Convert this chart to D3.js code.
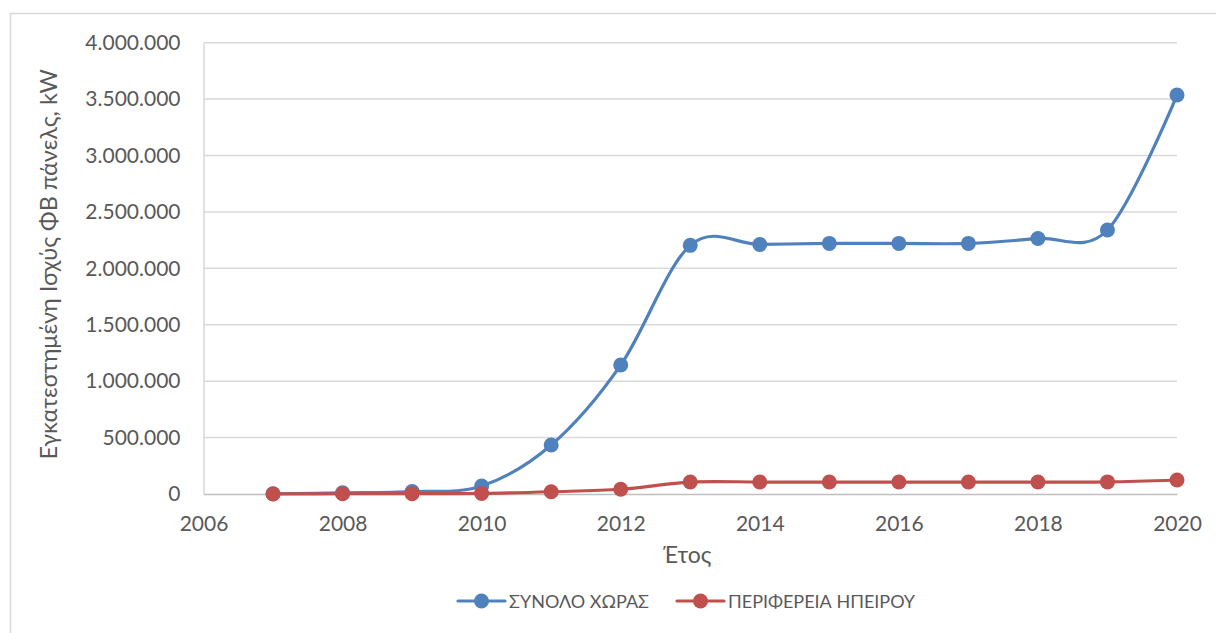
<!DOCTYPE html>
<html>
<head>
<meta charset="utf-8">
<script src="https://cdn.jsdelivr.net/npm/d3@7"></script>
<style>
  html, body { margin: 0; padding: 0; background: #fff; }
  svg text { font-family: Lato, "Open Sans", "Noto Sans", sans-serif; fill: #595959; }
</style>
</head>
<body>
<svg id="chart" width="1216" height="633"></svg>
<script>
// Installed PV capacity (kW) per year
const years = [2007, 2008, 2009, 2010, 2011, 2012, 2013, 2014, 2015, 2016, 2017, 2018, 2019, 2020];
const totalCountry = [2000, 10000, 22000, 71000, 434000, 1143000, 2204000, 2212000, 2221000, 2221000, 2221000, 2265000, 2340000, 3536000];
const epirusRegion = [500, 2000, 3000, 5000, 20000, 42000, 106000, 106000, 106000, 106000, 106000, 106000, 107000, 124000];
const seriesNames = ["ΣΥΝΟΛΟ ΧΩΡΑΣ", "ΠΕΡΙΦΕΡΕΙΑ ΗΠΕΙΡΟΥ"];
const seriesColors = ["#4F81BD", "#C0504D"];
const xTicks = [2006, 2008, 2010, 2012, 2014, 2016, 2018, 2020];
const yTicks = [0, 500000, 1000000, 1500000, 2000000, 2500000, 3000000, 3500000, 4000000];
const yTitle = "Εγκατεστημένη Ισχύς ΦΒ πάνελς, kW";
const xTitle = "Έτος";

const svg = d3.select("#chart");
const plot = { left: 203.5, right: 1177, top: 42.7, bottom: 494 };

// Outer chart frame
svg.append("rect")
  .attr("x", 10.5).attr("y", 13.5)
  .attr("width", 1240).attr("height", 660)
  .attr("fill", "#fff").attr("stroke", "#d9d9d9").attr("stroke-width", 1.5);

const x = d3.scaleLinear().domain([2006, 2020]).range([plot.left, plot.right]);
const y = d3.scaleLinear().domain([0, 4000000]).range([plot.bottom, plot.top]);

const locale = d3.formatLocale({ decimal: ",", thousands: ".", grouping: [3], currency: ["", " €"] });
const fmt = locale.format(",d");

// Horizontal gridlines
svg.append("g")
  .selectAll("line")
  .data(yTicks.slice(1))
  .join("line")
  .attr("x1", plot.left).attr("x2", plot.right)
  .attr("y1", d => y(d)).attr("y2", d => y(d))
  .attr("stroke", "#d9d9d9").attr("stroke-width", 1.5);

// Y axis
const yAxis = svg.append("g")
  .attr("transform", `translate(${plot.left},0)`)
  .call(d3.axisLeft(y).tickValues(yTicks).tickFormat(fmt).tickSize(0).tickPadding(23));
yAxis.select(".domain").attr("stroke", "#d9d9d9").attr("stroke-width", 1.5);
yAxis.selectAll("text").attr("font-size", 21).attr("fill", "#595959");

// X axis
const xAxis = svg.append("g")
  .attr("transform", `translate(0,${plot.bottom})`)
  .call(d3.axisBottom(x).tickValues(xTicks).tickFormat(d3.format("d")).tickSize(0).tickPadding(22));
xAxis.select(".domain").attr("stroke", "#bfbfbf").attr("stroke-width", 1.5);
xAxis.selectAll("text").attr("font-size", 21).attr("fill", "#595959");

// Axis titles
svg.append("text")
  .attr("x", (plot.left + plot.right) / 2 - 3).attr("y", 563)
  .attr("text-anchor", "middle").attr("font-size", 23)
  .text(xTitle);

svg.append("text")
  .attr("transform", `translate(57,${(plot.top + plot.bottom) / 2 - 4}) rotate(-90)`)
  .attr("text-anchor", "middle").attr("font-size", 23.5)
  .text(yTitle);

// Smoothed series lines with markers
const series = [totalCountry, epirusRegion];
const line = d3.line()
  .x((d, i) => x(years[i]))
  .y(d => y(d))
  .curve(d3.curveCardinal.tension(0));

series.forEach((vals, s) => {
  const g = svg.append("g");
  g.append("path")
    .attr("d", line(vals))
    .attr("fill", "none")
    .attr("stroke", seriesColors[s])
    .attr("stroke-width", 3.2)
    .attr("stroke-linecap", "round");
  g.selectAll("circle")
    .data(vals)
    .join("circle")
    .attr("cx", (d, i) => x(years[i]))
    .attr("cy", d => y(d))
    .attr("r", 7.5)
    .attr("fill", seriesColors[s]);
});

// Legend
const legendItems = [
  { x0: 458, name: seriesNames[0], color: seriesColors[0] },
  { x0: 677, name: seriesNames[1], color: seriesColors[1] }
];
const legendY = 601;
legendItems.forEach(item => {
  const g = svg.append("g");
  g.append("line")
    .attr("x1", item.x0).attr("x2", item.x0 + 47)
    .attr("y1", legendY).attr("y2", legendY)
    .attr("stroke", item.color).attr("stroke-width", 3.2).attr("stroke-linecap", "round");
  g.append("circle")
    .attr("cx", item.x0 + 23.5).attr("cy", legendY).attr("r", 7.5)
    .attr("fill", item.color);
  g.append("text")
    .attr("x", item.x0 + 51).attr("y", legendY + 7)
    .attr("font-size", 18)
    .text(item.name);
});
</script>
</body>
</html>
